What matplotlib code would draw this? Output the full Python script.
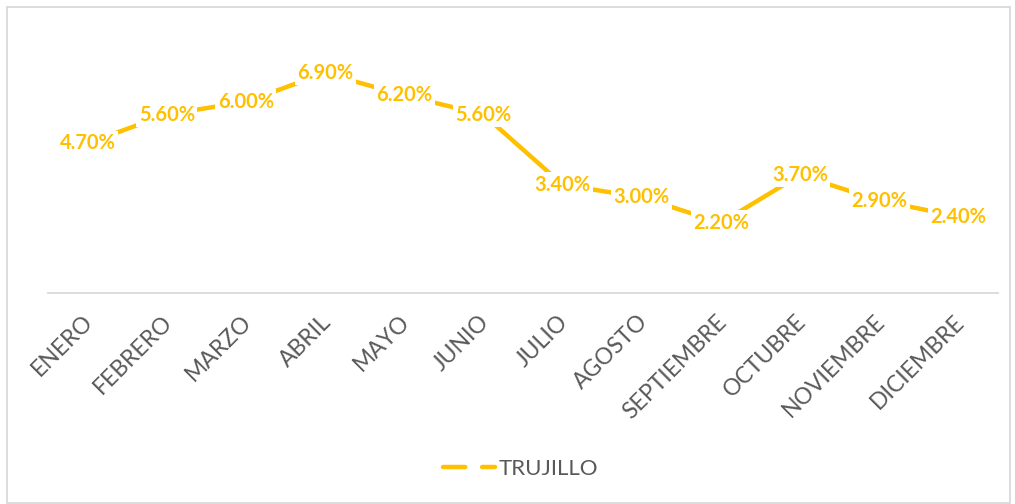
import matplotlib
matplotlib.use("Agg")
import matplotlib.pyplot as plt
from matplotlib.lines import Line2D
from matplotlib.patches import Rectangle
from matplotlib.transforms import ScaledTranslation

months = ["ENERO", "FEBRERO", "MARZO", "ABRIL", "MAYO", "JUNIO", "JULIO",
          "AGOSTO", "SEPTIEMBRE", "OCTUBRE", "NOVIEMBRE", "DICIEMBRE"]
trujillo = [4.7, 5.6, 6.0, 6.9, 6.2, 5.6, 3.4, 3.0, 2.2, 3.7, 2.9, 2.4]
series_name = "TRUJILLO"

gold = "#FFC000"
gray = "#595959"
plt.rcParams['font.family'] = ['Lato', 'DejaVu Sans']

fig = plt.figure(figsize=(10.15, 5.04), dpi=100)
ax = fig.add_axes([48/1015, 1-293/504, 950/1015, 255/504])

x = list(range(len(months)))
ax.plot(x, trujillo, color=gold, lw=3.2, solid_capstyle='round', solid_joinstyle='round', zorder=2)
for xi, v in zip(x, trujillo):
    ax.text(xi, v, f"{v:.2f}%", ha='center', va='center', color=gold,
            fontsize=14.5, fontweight='bold', zorder=3,
            bbox=dict(boxstyle='square,pad=0.12', fc='white', ec='none'))

ax.set_xlim(-0.5, len(months) - 0.5)
ax.set_ylim(0, 8)
for s in ['top', 'right', 'left']:
    ax.spines[s].set_visible(False)
ax.spines['bottom'].set_color('#D9D9D9')
ax.spines['bottom'].set_linewidth(1.3)
ax.set_yticks([])
ax.set_xticks(x)
ax.set_xticklabels(months, rotation=45, ha='right', rotation_mode='anchor',
                   fontsize=16.5, color=gray)
ax.tick_params(axis='x', length=0, pad=13)
off = ScaledTranslation(-5/100, 0, fig.dpi_scale_trans)
for lab in ax.get_xticklabels():
    lab.set_transform(lab.get_transform() + off)

handle = Line2D([0], [0], color=gold, lw=3.2, dashes=(5, 3.8), dash_capstyle='round')
fig.legend([handle], [series_name], loc='center', bbox_to_anchor=(521/1015, 1-469/504),
           frameon=False, fontsize=16, labelcolor=gray, handlelength=2.3, handletextpad=0.2)

fig.patches.append(Rectangle((7/1015, 0.002), 1003/1015, 1-7/504 - 0.002, transform=fig.transFigure,
                             fill=False, ec='#D9D9D9', lw=1.3))

fig.savefig("out.png", dpi=100, facecolor='white')
